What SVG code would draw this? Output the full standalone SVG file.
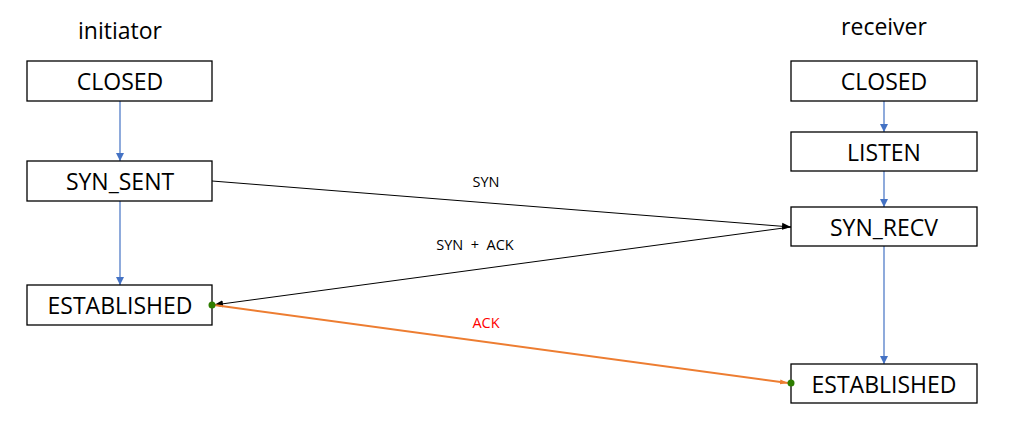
<svg xmlns="http://www.w3.org/2000/svg" width="1013" height="425" viewBox="0 0 1013 425">
<style>
.box{fill:#fff;stroke:#000;stroke-width:1.3}
.bt{font-family:"Open Sans","Noto Sans",sans-serif;font-size:23px;fill:#000;text-anchor:middle;dominant-baseline:central}
.title{font-family:"Open Sans","Noto Sans",sans-serif;font-size:23px;fill:#000;text-anchor:middle}
.lbl{font-family:"Open Sans","Noto Sans",sans-serif;font-size:14.5px;fill:#000;text-anchor:middle;white-space:pre}
.blue{stroke:#4472c4;stroke-width:1.2;fill:none}
.blk{stroke:#000;stroke-width:1;fill:none}
.org{stroke:#ed7d31;stroke-width:2;fill:none}
.dot{fill:#2e7d00}
</style>
<defs>
<marker id="ab" viewBox="0 0 10 10" refX="10" refY="5" markerWidth="8" markerHeight="8" markerUnits="userSpaceOnUse" orient="auto"><path d="M0,0 L10,5 L0,10 z" fill="#4472c4"/></marker>
<marker id="ak" viewBox="0 0 10 10" refX="10" refY="5" markerWidth="9" markerHeight="9" markerUnits="userSpaceOnUse" orient="auto"><path d="M0,1 L10,5 L0,9 z" fill="#000"/></marker>
<marker id="ao" viewBox="0 0 10 10" refX="10" refY="5" markerWidth="8" markerHeight="8" markerUnits="userSpaceOnUse" orient="auto"><path d="M0,2 L10,5 L0,8 z" fill="#ed7d31"/></marker>
</defs>
<text class="title" x="120" y="39">initiator</text>
<text class="title" x="884" y="35">receiver</text>
<g id="connectors">
<line class="blue" x1="120" y1="101" x2="120" y2="161" marker-end="url(#ab)"/>
<line class="blue" x1="120" y1="201" x2="120" y2="285" marker-end="url(#ab)"/>
<line class="blue" x1="884" y1="101" x2="884" y2="132" marker-end="url(#ab)"/>
<line class="blue" x1="884" y1="171" x2="884" y2="207" marker-end="url(#ab)"/>
<line class="blue" x1="884" y1="246" x2="884" y2="364" marker-end="url(#ab)"/>
<line class="blk" x1="212" y1="181" x2="791" y2="227" marker-end="url(#ak)"/>
<line class="blk" x1="791" y1="227" x2="214" y2="305" marker-end="url(#ak)"/>
<line class="org" x1="214" y1="305" x2="788" y2="383" marker-end="url(#ao)"/>
<text class="lbl" x="486" y="187">SYN</text>
<text class="lbl" x="475" y="250">SYN  +  ACK</text>
<text class="lbl" x="486" y="328" style="fill:#ff0000">ACK</text>
</g>
<g id="i-closed"><rect class="box" x="27" y="61" width="185" height="40"/><text class="bt" x="120" y="81">CLOSED</text></g>
<g id="i-synsent"><rect class="box" x="27" y="161" width="185" height="40"/><text class="bt" x="120" y="181">SYN_SENT</text></g>
<g id="i-established"><rect class="box" x="27" y="285" width="185" height="40"/><text class="bt" x="120" y="305">ESTABLISHED</text></g>
<g id="r-closed"><rect class="box" x="791" y="61" width="186" height="40"/><text class="bt" x="884" y="81">CLOSED</text></g>
<g id="r-listen"><rect class="box" x="791" y="132" width="186" height="39"/><text class="bt" x="884" y="152">LISTEN</text></g>
<g id="r-synrecv"><rect class="box" x="791" y="207" width="186" height="39"/><text class="bt" x="884" y="227">SYN_RECV</text></g>
<g id="r-established"><rect class="box" x="791" y="364" width="186" height="39"/><text class="bt" x="884" y="384">ESTABLISHED</text></g>
<circle class="dot" cx="212" cy="305" r="3.5"/>
<circle class="dot" cx="791" cy="383" r="3.5"/>
</svg>
